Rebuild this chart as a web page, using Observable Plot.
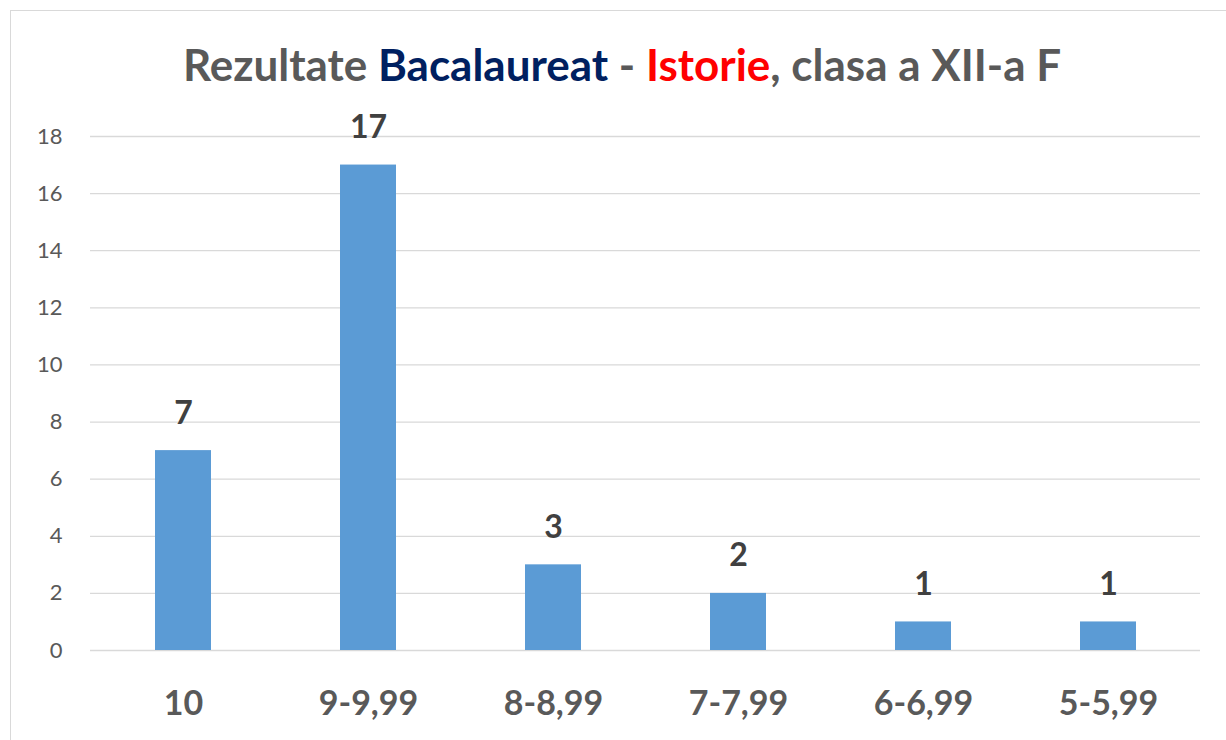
<!DOCTYPE html>
<html>
<head>
<meta charset="utf-8">
<script src="https://cdn.jsdelivr.net/npm/d3@7"></script>
<script src="https://cdn.jsdelivr.net/npm/@observablehq/plot@0.6"></script>
<style>
  html, body { margin: 0; padding: 0; background: #fff; }
  #wrap { position: relative; width: 1226px; height: 740px; overflow: hidden; font-family: Lato, "Open Sans", sans-serif; }
  #frame { position: absolute; left: 10px; top: 10px; width: 1240px; height: 760px; border: 1px solid #d9d9d9; box-sizing: border-box; }
  #title { position: absolute; left: 0; top: 0; width: 1226px; height: 100px; text-align: center; font-weight: bold; font-size: 44px; color: #595959; line-height: 1; padding-top: 42px; box-sizing: border-box; padding-left: 18px; }
  #title .b { color: #002060; }
  #title .r { color: #ff0000; }
  #chart { position: absolute; left: 0; top: 100px; }
</style>
</head>
<body>
<div id="wrap">
  <div id="frame"></div>
  <div id="title">Rezultate <span class="b">Bacalaureat</span> - <span class="r">Istorie</span>, clasa a XII-a F</div>
  <div id="chart"></div>
</div>
<script>
const categories = ["10", "9-9,99", "8-8,99", "7-7,99", "6-6,99", "5-5,99"];
const counts = [7, 17, 3, 2, 1, 1];
const yTicks = [0, 2, 4, 6, 8, 10, 12, 14, 16, 18];

const data = categories.map((c, i) => ({category: c, count: counts[i]}));

const chart = Plot.plot({
  width: 1226,
  height: 640,
  marginLeft: 90,
  marginRight: 26,
  marginTop: 36,
  marginBottom: 90,
  style: {fontFamily: "Lato, 'Open Sans', sans-serif", background: "transparent", overflow: "visible"},
  x: {domain: categories, paddingInner: 0.7, paddingOuter: 0.35, label: null},
  y: {domain: [0, 18], ticks: yTicks, label: null},
  marks: [
    Plot.gridY(yTicks, {stroke: "#d9d9d9", strokeOpacity: 1, strokeWidth: 1.3}),
    Plot.barY(data, {x: "category", y: "count", fill: "#5b9bd5"}),
    Plot.text(data, {x: "category", y: "count", text: d => String(d.count), lineAnchor: "bottom", dy: -27, fontSize: 32, fontWeight: "bold", fill: "#404040"}),
    Plot.axisY(yTicks, {tickSize: 0, tickPadding: 28, fontSize: 22, fill: "#595959", label: null}),
    Plot.axisX({tickSize: 0, tickPadding: 40, fontSize: 34, fontWeight: "bold", fill: "#595959", label: null})
  ]
});
document.getElementById("chart").appendChild(chart);
</script>
</body>
</html>
